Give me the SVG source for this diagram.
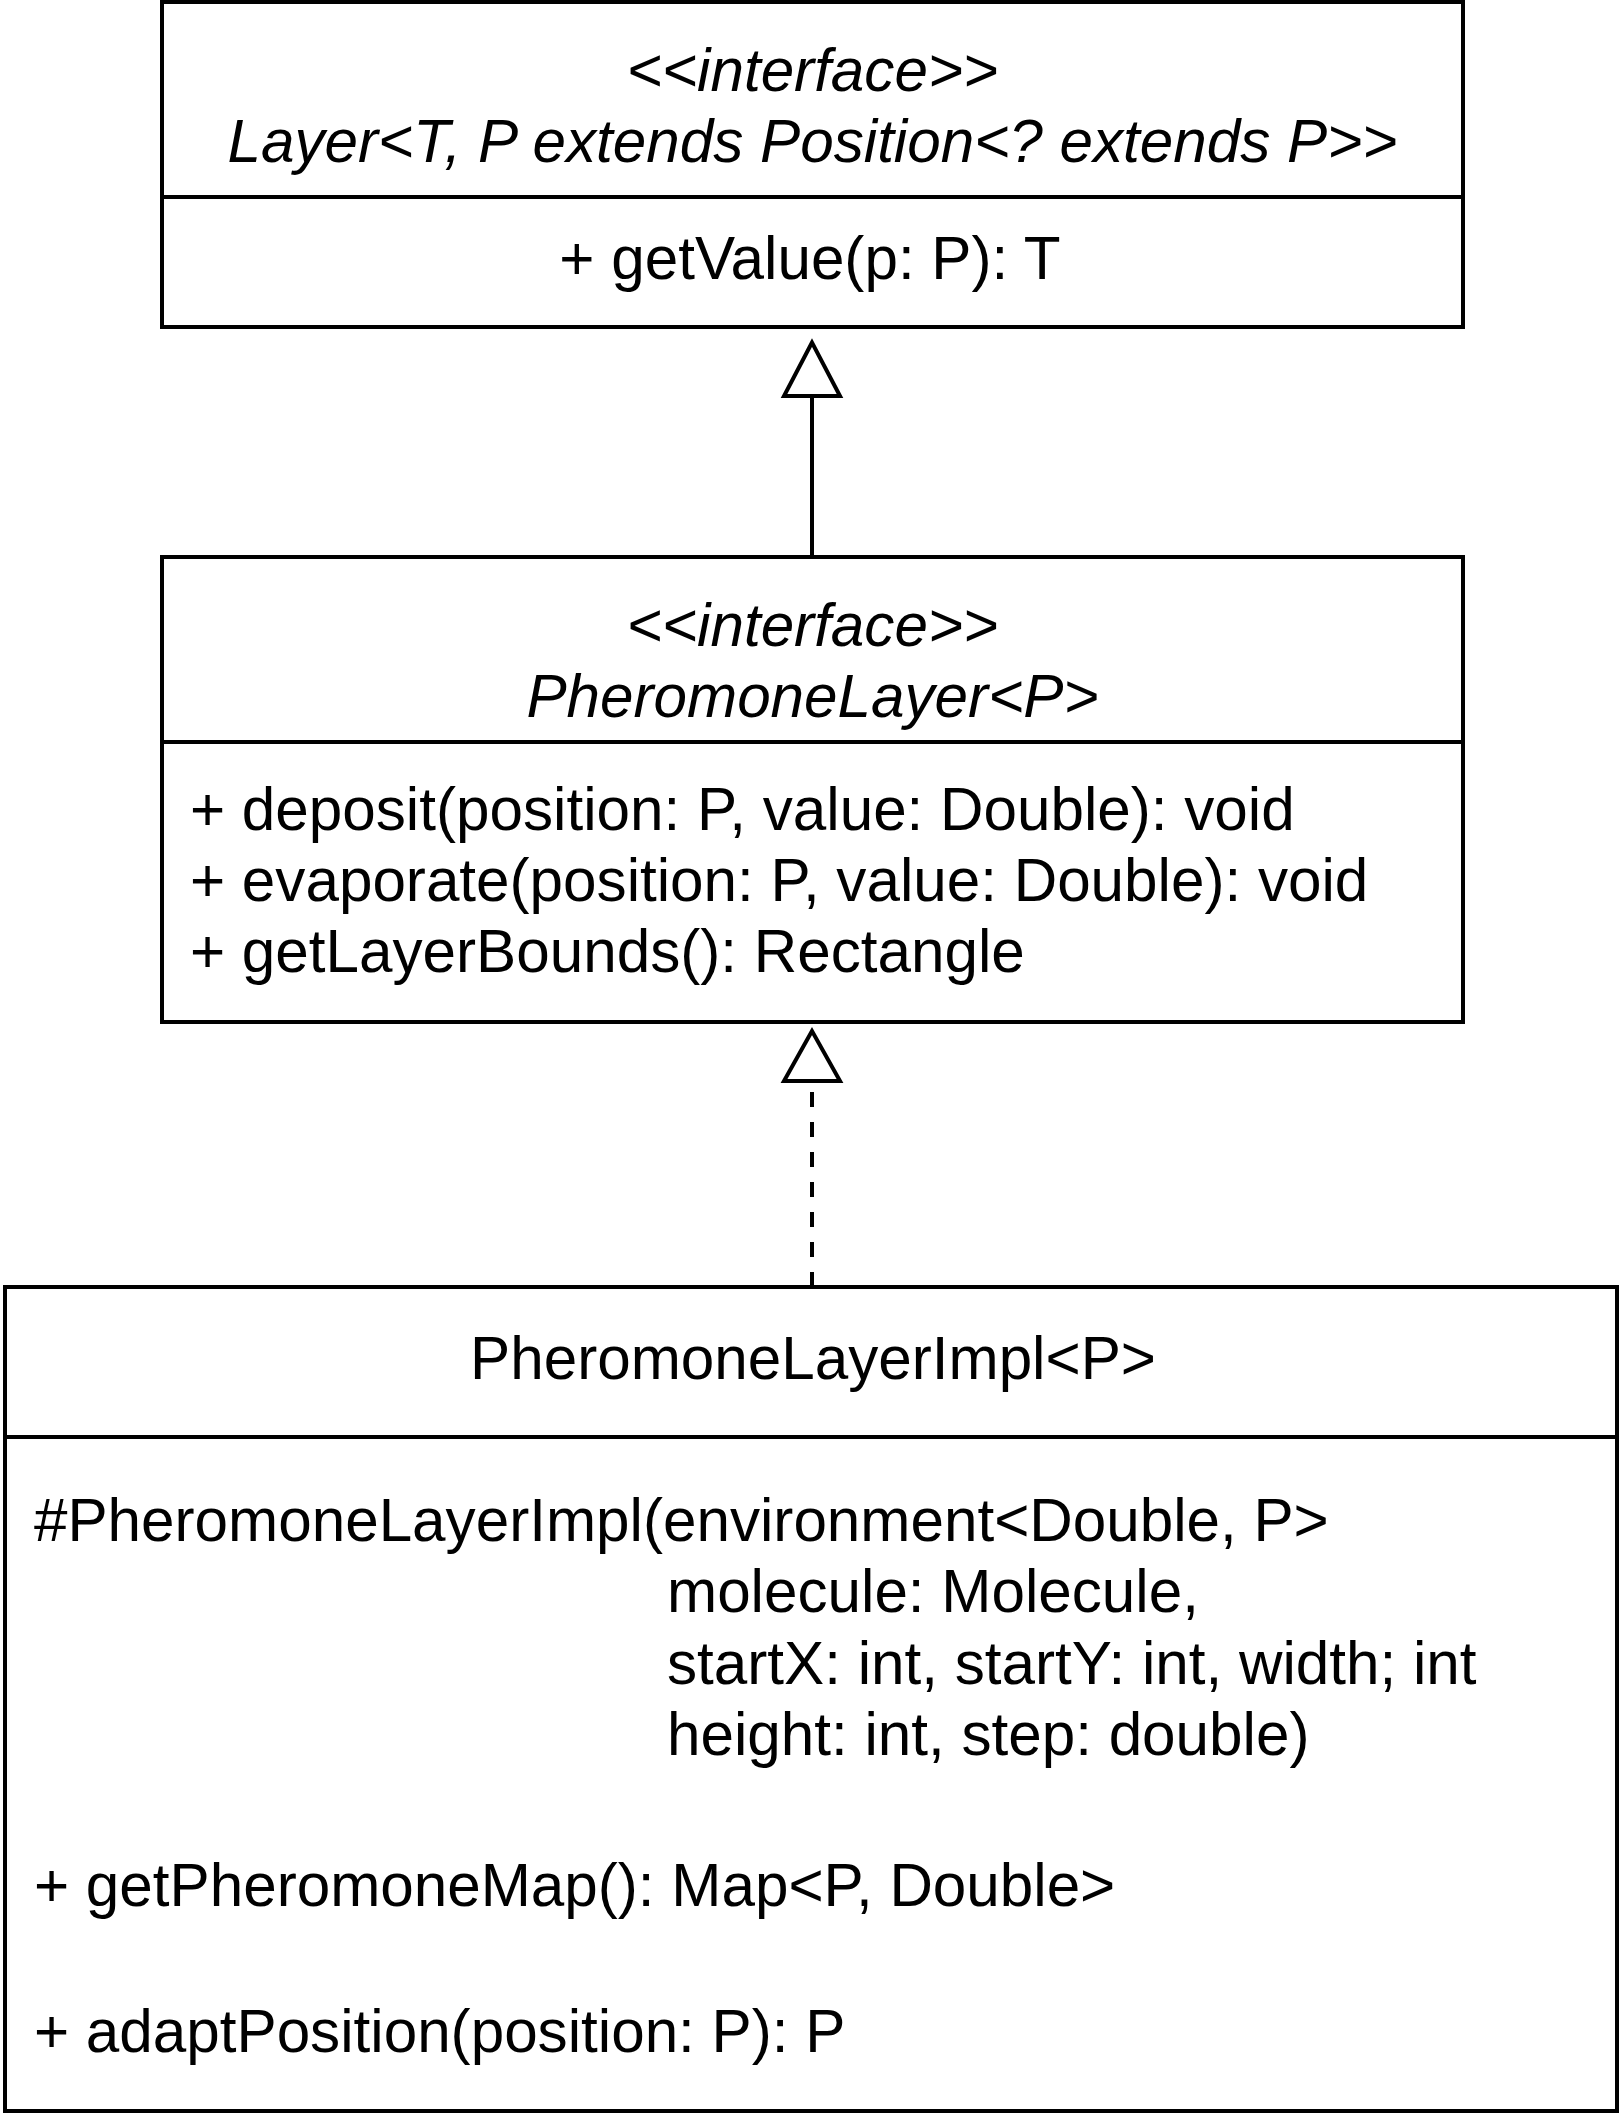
<svg xmlns="http://www.w3.org/2000/svg" width="1620" height="2115" viewBox="0 0 1620 2115">
  <style>
    .box { fill: #ffffff; stroke: #000000; stroke-width: 4; }
    .div { stroke: #000000; stroke-width: 4; fill: none; }
    text { font-family: "Liberation Sans", Arial, Helvetica, sans-serif; font-size: 60.2px; fill: #000000; }
    .it { font-style: italic; }
    .c { text-anchor: middle; }
    .edge { stroke: #000000; stroke-width: 4; fill: none; }
    .dash { stroke-dasharray: 15 15; }
    .head { fill: #ffffff; stroke: #000000; stroke-width: 4; stroke-linejoin: miter; }
  </style>
  <rect x="0" y="0" width="1620" height="2115" fill="#ffffff"/>

  <g id="connectors">
    <line class="edge" x1="812" y1="557" x2="812" y2="396"/>
    <polygon class="head" points="812,342.5 784,396 840,396"/>
    <line class="edge dash" x1="812" y1="1287" x2="812" y2="1081"/>
    <polygon class="head" points="812,1031 784,1081 840,1081"/>
  </g>

  <g id="layer">
    <rect class="box" x="162" y="2" width="1301" height="325"/>
    <line class="div" x1="162" y1="197" x2="1463" y2="197"/>
    <text class="it c" x="812.5" y="91">&lt;&lt;interface&gt;&gt;</text>
    <text class="it c" x="812.5" y="162.4">Layer&lt;T, P extends Position&lt;? extends P&gt;&gt;</text>
    <text class="c" x="810" y="279">+ getValue(p: P): T</text>
  </g>

  <g id="pheromoneLayer">
    <rect class="box" x="162" y="557" width="1301" height="465"/>
    <line class="div" x1="162" y1="742" x2="1463" y2="742"/>
    <text class="it c" x="812.5" y="646">&lt;&lt;interface&gt;&gt;</text>
    <text class="it c" x="812.5" y="717.4">PheromoneLayer&lt;P&gt;</text>
    <text x="190" y="830">+ deposit(position: P, value: Double): void</text>
    <text x="190" y="901">+ evaporate(position: P, value: Double): void</text>
    <text x="190" y="972">+ getLayerBounds(): Rectangle</text>
  </g>

  <g id="pheromoneLayerImpl">
    <rect class="box" x="5" y="1287" width="1612" height="824"/>
    <line class="div" x1="5" y1="1437" x2="1617" y2="1437"/>
    <text class="c" x="813" y="1379">PheromoneLayerImpl&lt;P&gt;</text>
    <text x="34" y="1541">#PheromoneLayerImpl(environment&lt;Double, P&gt;</text>
    <text x="667" y="1612.4">molecule: Molecule,</text>
    <text x="667" y="1683.8">startX: int, startY: int, width; int</text>
    <text x="667" y="1755.2">height: int, step: double)</text>
    <text x="34" y="1906">+ getPheromoneMap(): Map&lt;P, Double&gt;</text>
    <text x="34" y="2052">+ adaptPosition(position: P): P</text>
  </g>
</svg>
